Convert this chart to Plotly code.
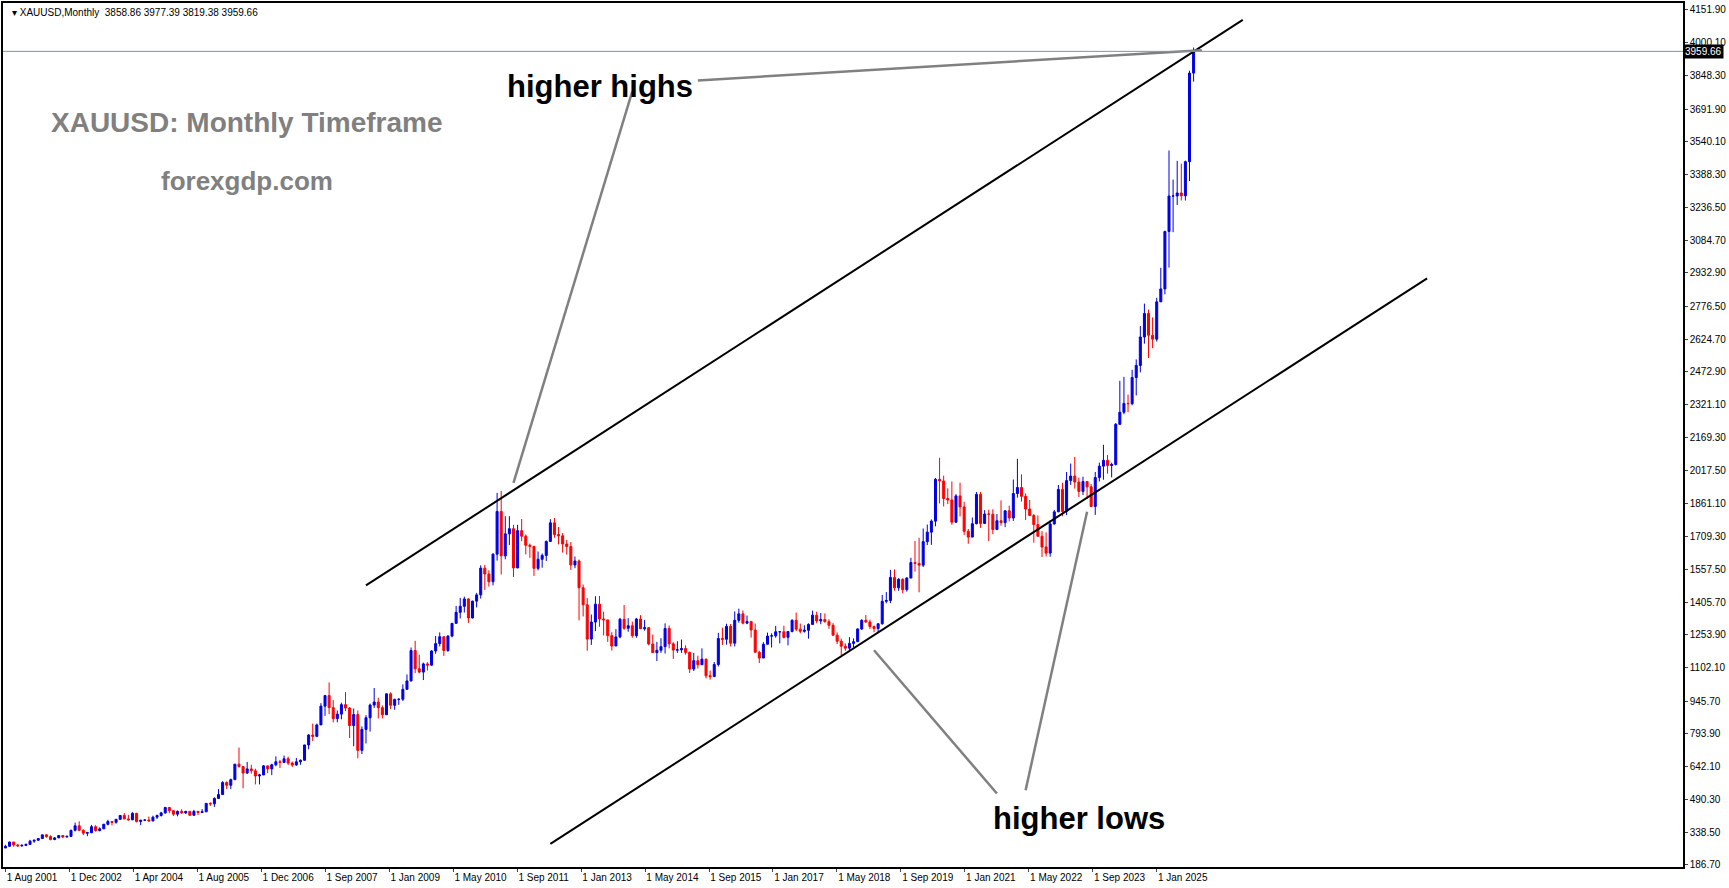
import plotly.graph_objects as go
import pandas as pd

start_open = 265.0
closes = [273,293,279,275,277,
282,297,301,309,326,318,304,312,323,316,319,347,
368,347,334,336,364,346,354,375,388,384,398,416,
400,396,426,388,394,395,391,408,416,428,453,438,
422,435,428,435,417,435,430,433,472,470,495,513,
569,556,582,654,643,613,632,623,599,604,646,632,
651,665,662,679,659,650,665,672,743,789,783,836,
923,972,916,865,886,930,914,833,884,718,815,869,
928,942,916,883,980,927,954,955,1001,1040,1181,1096,
1081,1119,1113,1179,1213,1245,1181,1248,1307,1358,1386,1420,
1332,1410,1439,1563,1536,1500,1628,1826,1620,1722,1746,1564,
1737,1711,1669,1664,1562,1604,1622,1687,1773,1719,1713,1675,
1663,1578,1596,1472,1393,1234,1313,1396,1327,1323,1250,1202,
1244,1326,1284,1296,1250,1327,1282,1287,1211,1171,1182,1199,
1283,1212,1183,1184,1190,1172,1095,1134,1115,1141,1064,1060,
1116,1237,1233,1293,1215,1321,1351,1308,1316,1276,1173,1146,
1210,1248,1249,1268,1268,1242,1269,1321,1280,1270,1275,1302,
1345,1318,1325,1315,1298,1252,1224,1201,1192,1214,1222,1281,
1321,1313,1292,1283,1305,1409,1413,1520,1472,1511,1463,1517,
1589,1585,1577,1686,1730,1781,1975,1967,1886,1879,1776,1898,
1847,1734,1707,1769,1905,1770,1814,1813,1742,1783,1774,1829,
1796,1909,1937,1896,1837,1807,1765,1711,1661,1633,1768,1824,
1928,1826,1969,1990,1962,1919,1965,1940,1849,1983,2036,2063,
2039,2044,2230,2286,2327,2326,2447,2503,2635,2744,2643,2625,
2798,2858,3124,3289,3289,3303,3290,3448,3858.86,3959.66]
highs = [280,294,293,284,283,
285,303,304,311,327,330,324,316,325,325,323,350,
383,389,352,340,372,371,361,377,396,390,399,418,
427,419,431,428,396,398,411,415,420,433,456,456,
440,439,445,437,436,442,436,446,473,477,500,538,
575,574,587,654,731,645,664,651,633,609,649,640,
656,690,674,694,689,666,683,676,744,793,842,842,
937,975,1033,951,903,939,988,919,912,903,829,881,
935,1007,962,926,982,987,958,960,1024,1070,1195,1226,
1162,1125,1127,1182,1248,1265,1213,1252,1308,1388,1425,1431,
1423,1412,1448,1576,1578,1553,1632,1912,1921,1804,1804,1764,
1764,1791,1719,1677,1666,1640,1631,1691,1790,1795,1754,1726,
1694,1684,1617,1603,1487,1424,1348,1433,1434,1361,1322,1266,
1280,1332,1392,1331,1315,1332,1345,1323,1288,1255,1221,1238,
1307,1297,1220,1224,1232,1205,1176,1170,1157,1191,1143,1088,
1128,1263,1287,1305,1304,1362,1375,1367,1343,1316,1306,1180,
1220,1264,1261,1295,1270,1296,1270,1326,1357,1306,1298,1307,
1366,1361,1355,1353,1326,1308,1265,1236,1214,1243,1237,1284,
1326,1346,1324,1297,1306,1439,1452,1555,1557,1517,1516,1522,
1611,1689,1704,1747,1765,1789,1981,2075,1992,1933,1965,1906,
1959,1871,1745,1798,1916,1916,1832,1834,1836,1814,1877,1831,
1853,1974,2070,1998,1909,1879,1814,1807,1735,1729,1786,1833,
1949,1959,2009,2048,2079,1983,1987,1949,1953,2009,2052,2135,
2088,2052,2236,2432,2450,2368,2483,2531,2686,2790,2762,2726,
2817,2956,3128,3500,3365,3452,3439,3453,3870,3977.39]
lows = [265,271,271,271,271,
277,281,289,299,307,313,301,302,312,311,314,318,
342,343,325,320,334,341,342,354,370,370,378,396,
399,392,394,384,371,390,387,388,400,411,424,426,
414,412,424,423,414,415,418,430,432,460,456,493,
513,538,538,582,637,542,608,610,560,560,603,612,
603,644,636,659,650,641,647,651,670,723,761,779,
836,878,886,848,848,862,900,775,737,681,701,750,
805,915,866,866,884,909,906,929,947,998,1037,1076,
1075,1044,1088,1111,1166,1200,1156,1175,1242,1316,1330,1357,
1309,1330,1381,1422,1462,1477,1483,1598,1534,1604,1670,1522,
1563,1688,1627,1611,1527,1553,1565,1596,1686,1704,1673,1635,
1626,1555,1563,1321,1339,1180,1207,1271,1291,1251,1221,1181,
1203,1238,1277,1268,1240,1240,1282,1273,1205,1182,1132,1170,
1167,1191,1142,1170,1170,1162,1077,1086,1098,1136,1052,1046,
1061,1107,1207,1208,1200,1200,1310,1302,1303,1241,1171,1123,
1146,1209,1195,1240,1214,1237,1205,1265,1271,1260,1264,1236,
1302,1307,1303,1310,1282,1250,1211,1160,1180,1183,1196,1221,
1276,1310,1281,1266,1266,1301,1400,1401,1459,1458,1446,1454,
1517,1547,1451,1568,1670,1671,1757,1863,1849,1860,1764,1775,
1803,1717,1676,1720,1766,1750,1790,1688,1721,1746,1760,1753,
1780,1782,1890,1872,1786,1805,1681,1709,1614,1617,1616,1765,
1823,1804,1809,1949,1932,1893,1902,1884,1846,1810,1965,1973,
2001,1984,2039,2228,2277,2286,2318,2364,2471,2604,2537,2583,
2614,2833,2833,2957,3121,3247,3268,3268,3358,3819.38]

y_tick_vals = [186.70,338.50,490.30,642.10,793.90,945.70,1102.10,1253.90,1405.70,1557.50,
               1709.30,1861.10,2017.50,2169.30,2321.10,2472.90,2624.70,2776.50,2932.90,
               3084.70,3236.50,3388.30,3540.10,3691.90,3848.30,4000.10,4151.90]
x_tick_labels = ["1 Aug 2001","1 Dec 2002","1 Apr 2004","1 Aug 2005","1 Dec 2006","1 Sep 2007",
                 "1 Jan 2009","1 May 2010","1 Sep 2011","1 Jan 2013","1 May 2014","1 Sep 2015",
                 "1 Jan 2017","1 May 2018","1 Sep 2019","1 Jan 2021","1 May 2022","1 Sep 2023",
                 "1 Jan 2025"]
last_price = 3959.66

# drawn objects (bar index, price)
upper_channel = [(88, 1483), (302, 4106)]
lower_channel = [(133, 284), (347, 2907)]
pointer_lines = [[(169, 3825), (292, 3965)], [(153, 3774), (124, 1958)],
                 [(242, 518), (212, 1182)], [(249, 533), (264, 1825)]]

n = len(closes)
dates = pd.date_range("2001-08-01", periods=n, freq="MS")
opens = [start_open] + closes[:-1]
hi = [max(h, o, c) for h, o, c in zip(highs, opens, closes)]
lo = [min(l, o, c) for l, o, c in zip(lows, opens, closes)]
idx = list(range(n))
jan2025 = list(dates).index(pd.Timestamp("2025-01-01"))
step = jan2025 / (len(x_tick_labels) - 1)
tick_pos = [k * step for k in range(len(x_tick_labels))]

BLUE = "#0000e6"; RED = "#ff0000"
fig = go.Figure(go.Candlestick(
    x=idx, open=opens, high=hi, low=lo, close=closes,
    increasing=dict(line=dict(color=BLUE, width=1), fillcolor=BLUE),
    decreasing=dict(line=dict(color=RED, width=1), fillcolor=RED),
    whiskerwidth=0, showlegend=False, hoverinfo="skip"))

for (a, b) in [upper_channel, lower_channel]:
    fig.add_shape(type="line", x0=a[0], y0=a[1], x1=b[0], y1=b[1],
                  line=dict(color="black", width=2))
for (a, b) in pointer_lines:
    fig.add_shape(type="line", x0=a[0], y0=a[1], x1=b[0], y1=b[1],
                  line=dict(color="#808080", width=2.5))
fig.add_shape(type="line", xref="paper", x0=0, x1=1, y0=last_price, y1=last_price,
              line=dict(color="#8a8f99", width=1))

ann_font = dict(family="Liberation Sans", size=31, color="black")
fig.add_annotation(x=145, y=3795, text="<b>higher highs</b>", showarrow=False, font=ann_font)
fig.add_annotation(x=262, y=400, text="<b>higher lows</b>", showarrow=False, font=ann_font)
fig.add_annotation(x=59, y=3631, text="<b>XAUUSD: Monthly Timeframe</b>", showarrow=False,
                   font=dict(family="Liberation Sans", size=28, color="#808080"))
fig.add_annotation(x=59, y=3360, text="<b>forexgdp.com</b>", showarrow=False,
                   font=dict(family="Liberation Sans", size=26, color="#808080"))
fig.add_annotation(xref="paper", yref="paper", x=0.004, y=0.998, xanchor="left", yanchor="top",
                   text="▾ XAUUSD,Monthly  3858.86 3977.39 3819.38 3959.66", showarrow=False,
                   font=dict(family="Liberation Sans", size=10, color="black"))
fig.add_annotation(xref="paper", x=1.0, xanchor="left", y=last_price, text="%.2f" % last_price,
                   showarrow=False, bgcolor="black", font=dict(family="Liberation Sans", size=10, color="white"),
                   borderpad=1)

fig.update_layout(
    width=1729, height=888, margin=dict(l=3, r=46, t=1, b=21),
    paper_bgcolor="white", plot_bgcolor="white",
    xaxis=dict(range=[-0.6, -0.6 + 1680 / 4.097], rangeslider=dict(visible=False),
               tickvals=tick_pos, ticktext=x_tick_labels, ticks="outside", ticklen=3,
               tickangle=0, showgrid=False, zeroline=False, showline=True, linecolor="black",
               linewidth=1.5, mirror=True, tickfont=dict(family="Liberation Sans", size=10, color="black"),
               ticklabelposition="outside right"),
    yaxis=dict(range=[177, 4184], side="right", tickvals=y_tick_vals,
               ticktext=["%.2f" % v for v in y_tick_vals], ticks="outside", ticklen=3,
               showgrid=False, zeroline=False, showline=True, linecolor="black", linewidth=1.5,
               mirror=True, tickfont=dict(family="Liberation Sans", size=10, color="black")),
)
fig.write_html("out.html", config={"displayModeBar": False},
               post_script="document.body.style.margin='0';document.body.style.overflow='hidden';")
